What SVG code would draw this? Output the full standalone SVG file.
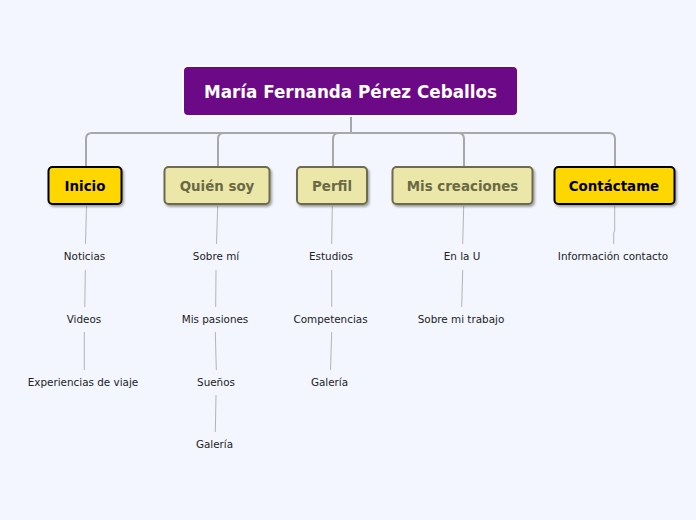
<svg xmlns="http://www.w3.org/2000/svg" width="696" height="520" viewBox="0 0 696 520">
<defs>
<filter id="sh" x="-20%" y="-30%" width="140%" height="160%">
<feDropShadow dx="1.5" dy="2" stdDeviation="1.2" flood-color="#000" flood-opacity="0.35"/>
</filter>
</defs>
<style>
.main{fill:none;stroke:#a8a8a8;stroke-width:2}
.sub{fill:none;stroke:#b4b4b4;stroke-width:1}
.yel{fill:#ffd700;stroke:#000;stroke-width:2}
.kh{fill:#eae7a9;stroke:#6e6b4c;stroke-width:2}
.t1{font-family:"DejaVu Sans",Verdana,sans-serif;font-weight:bold;font-size:13.4px;text-anchor:middle}
.leaf{font-family:"DejaVu Sans",Verdana,sans-serif;font-size:10.4px;fill:#222;text-anchor:middle}
</style>
<rect width="696" height="520" fill="#f3f6fe"/>
<g id="connectors">
<path class="main" d="M351,117 V133"/>
<path class="main" d="M351,133 H92 Q86,133 86,139 V167"/>
<path class="main" d="M351,133 H224 Q218,133 218,139 V167"/>
<path class="main" d="M351,133 H339 Q333,133 333,139 V167"/>
<path class="main" d="M351,133 H458 Q464,133 464,139 V167"/>
<path class="main" d="M351,133 H609 Q615,133 615,139 V167"/>
<path class="sub" d="M86.5,206 L85.5,244"/>
<path class="sub" d="M85.3,270 L84.8,307"/>
<path class="sub" d="M84.3,332 L84.3,370"/>
<path class="sub" d="M217.7,206 L216.5,244"/>
<path class="sub" d="M216,270 L215.7,307"/>
<path class="sub" d="M215.3,332 L216.3,370"/>
<path class="sub" d="M216,395 L215.3,432"/>
<path class="sub" d="M332.3,206 L331.7,244"/>
<path class="sub" d="M331.7,270 L331.7,307"/>
<path class="sub" d="M331.7,332 L330.5,370"/>
<path class="sub" d="M463.7,206 L462.7,244"/>
<path class="sub" d="M462.7,270 L461.7,307"/>
<path class="sub" d="M614.7,206 L614.7,231 L613.7,233 L613.7,244"/>
</g>
<g id="root">
<rect x="183" y="66" width="335" height="50" rx="5" fill="#6b0987" stroke="#fff" stroke-width="2"/>
<text x="350.5" y="98" font-family="DejaVu Sans,Verdana,sans-serif" font-weight="bold" font-size="16.8px" fill="#fff" text-anchor="middle">María Fernanda Pérez Ceballos</text>
</g>
<g id="inicio">
<rect class="yel" x="48.5" y="167" width="73" height="37" rx="4" filter="url(#sh)"/>
<text class="t1" x="85" y="191" fill="#000">Inicio</text>
</g>
<g id="quien">
<rect class="kh" x="164.5" y="167" width="105" height="37" rx="4" filter="url(#sh)"/>
<text class="t1" x="217" y="191" fill="#6b6944">Quién soy</text>
</g>
<g id="perfil">
<rect class="kh" x="297" y="167" width="70" height="37" rx="4" filter="url(#sh)"/>
<text class="t1" x="332" y="191" fill="#6b6944">Perfil</text>
</g>
<g id="creaciones">
<rect class="kh" x="392.5" y="167" width="140" height="37" rx="4" filter="url(#sh)"/>
<text class="t1" x="462.5" y="191" fill="#6b6944">Mis creaciones</text>
</g>
<g id="contactame">
<rect class="yel" x="554.5" y="167" width="120" height="37" rx="4" filter="url(#sh)"/>
<text class="t1" x="614" y="191" fill="#000">Contáctame</text>
</g>
<g id="leaf-noticias"><text class="leaf" x="84.5" y="260">Noticias</text></g>
<g id="leaf-videos"><text class="leaf" x="84" y="323">Videos</text></g>
<g id="leaf-experiencias"><text class="leaf" x="83" y="386">Experiencias de viaje</text></g>
<g id="leaf-sobremi"><text class="leaf" x="216" y="260">Sobre mí</text></g>
<g id="leaf-pasiones"><text class="leaf" x="215" y="323">Mis pasiones</text></g>
<g id="leaf-suenos"><text class="leaf" x="216" y="386">Sueños</text></g>
<g id="leaf-galeria1"><text class="leaf" x="214.5" y="448">Galería</text></g>
<g id="leaf-estudios"><text class="leaf" x="331" y="260">Estudios</text></g>
<g id="leaf-competencias"><text class="leaf" x="330.5" y="323">Competencias</text></g>
<g id="leaf-galeria2"><text class="leaf" x="329.5" y="386">Galería</text></g>
<g id="leaf-enlau"><text class="leaf" x="462" y="260">En la U</text></g>
<g id="leaf-trabajo"><text class="leaf" x="461" y="323">Sobre mi trabajo</text></g>
<g id="leaf-info"><text class="leaf" x="613" y="260">Información contacto</text></g>
</svg>
